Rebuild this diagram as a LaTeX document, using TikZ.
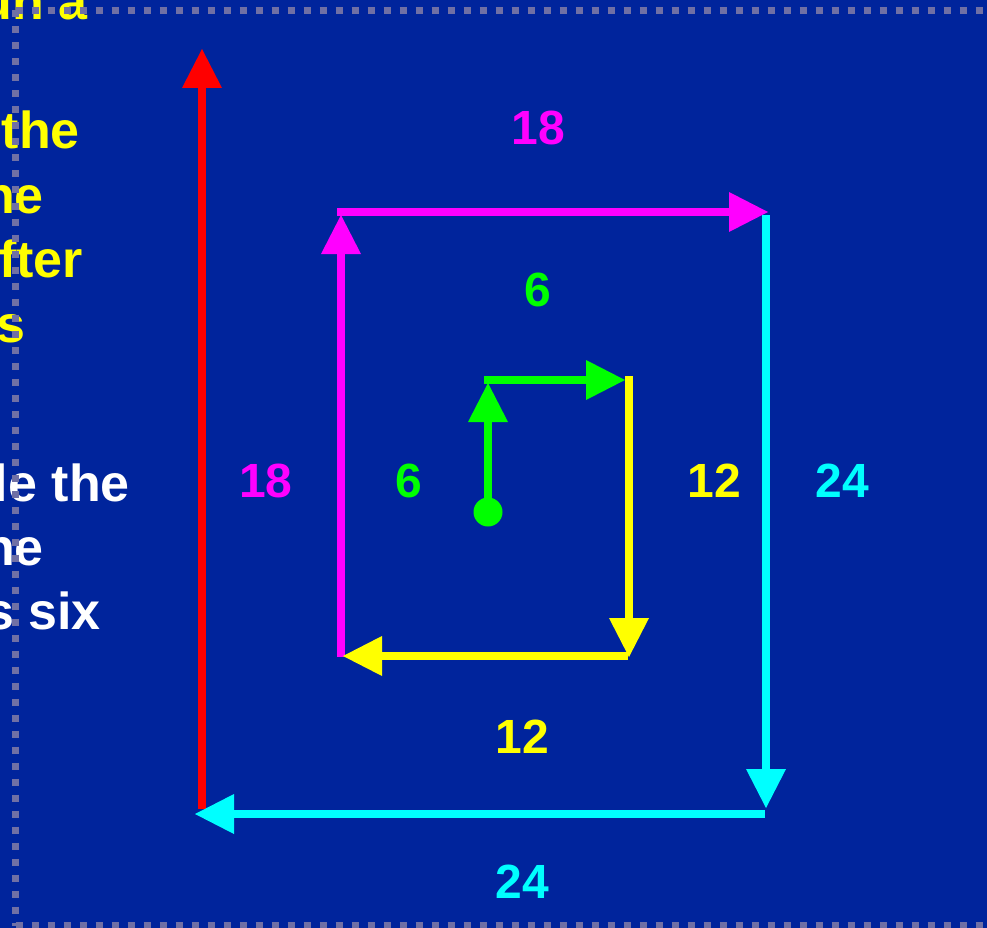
\documentclass[tikz,border=0pt]{standalone}
\usepackage{fontspec}
\setmainfont{Liberation Sans}
\usetikzlibrary{arrows.meta}
\definecolor{bg}{RGB}{0,36,156}
\definecolor{dotc}{RGB}{112,112,165}
\definecolor{rd}{RGB}{255,0,0}
\definecolor{mag}{RGB}{255,0,255}
\definecolor{cyn}{RGB}{0,255,255}
\definecolor{yel}{RGB}{255,255,0}
\definecolor{grn}{RGB}{0,255,0}
\definecolor{wht}{RGB}{255,255,255}
\begin{document}
\begin{tikzpicture}[x=1pt,y=-1pt,
  arr/.style={line width=8pt, -{Triangle[length=39pt,width=40pt,line width=0pt]}},
  lbl/.style={font=\fontsize{48}{48}\selectfont\bfseries, inner sep=0pt},
  side/.style={font=\fontsize{52}{52}\selectfont\bfseries, inner sep=0pt, anchor=base east},
  border/.style={dotc, line width=7pt, dash pattern=on 7pt off 9pt}]
\useasboundingbox (0,0) rectangle (987,928);
\clip (0,0) rectangle (987,928);
\fill[bg] (0,0) rectangle (987,928);

% clipped side text
\node[side, text=yel] (s1) at (88,20) {un a};
\node[side, text=yel] (s2) at (80,149) {the};
\node[side, text=yel] (s3) at (44,213) {ne};
\node[side, text=yel] (s4) at (83,277) {fter};
\node[side, text=yel] (s5) at (26,342) {s};
\node[side, text=wht] (s6) at (130,501) {le the};
\node[side, text=wht] (s7) at (44,565) {ne};
\node[side, text=wht] (s8) at (101,629) {s six};

% dotted frame
\coordinate (fa) at (15.5,925.5);
\coordinate (fb) at (15.5,10.5);
\coordinate (fc) at (995,10.5);
\coordinate (fd) at (995,925.5);
\draw[border] (fb) -- (fa);
\draw[border] (fb) -- (fc);
\draw[border] (fa) -- (fd);

% corner points
\coordinate (r0) at (202,809);
\coordinate (r1) at (202,49);
\coordinate (c0) at (766,215);
\coordinate (c1) at (766,808);
\coordinate (c2) at (765,814);
\coordinate (c3) at (195,814);
\coordinate (m0) at (341,657);
\coordinate (m1) at (341,215);
\coordinate (m2) at (337,212);
\coordinate (m3) at (768,212);
\coordinate (y0) at (629,376);
\coordinate (y1) at (629,657);
\coordinate (y2) at (628,656);
\coordinate (y3) at (343,656);
\coordinate (g1) at (488,383);
\coordinate (g2) at (484,380);
\coordinate (g3) at (625,380);

\node[circle, fill=grn, minimum size=29pt, inner sep=0pt] (g0) at (488,512) {};

\draw[arr, rd] (r0) -- (r1);
\draw[arr, cyn] (c0) -- (c1);
\draw[arr, cyn] (c2) -- (c3);
\draw[arr, mag] (m0) -- (m1);
\draw[arr, mag] (m2) -- (m3);
\draw[arr, yel] (y0) -- (y1);
\draw[arr, yel] (y2) -- (y3);
\draw[arr, grn] (g0.center) -- (g1);
\draw[arr, grn] (g2) -- (g3);

% labels
\node[lbl, text=mag] (l1) at (538,128) {18};
\node[lbl, text=grn] (l2) at (538,290) {6};
\node[lbl, text=mag] (l3) at (266,481) {18};
\node[lbl, text=grn] (l4) at (409,481) {6};
\node[lbl, text=yel] (l5) at (714,481) {12};
\node[lbl, text=cyn] (l6) at (842,481) {24};
\node[lbl, text=yel] (l7) at (522,737) {12};
\node[lbl, text=cyn] (l8) at (522,882) {24};
\end{tikzpicture}
\end{document}
